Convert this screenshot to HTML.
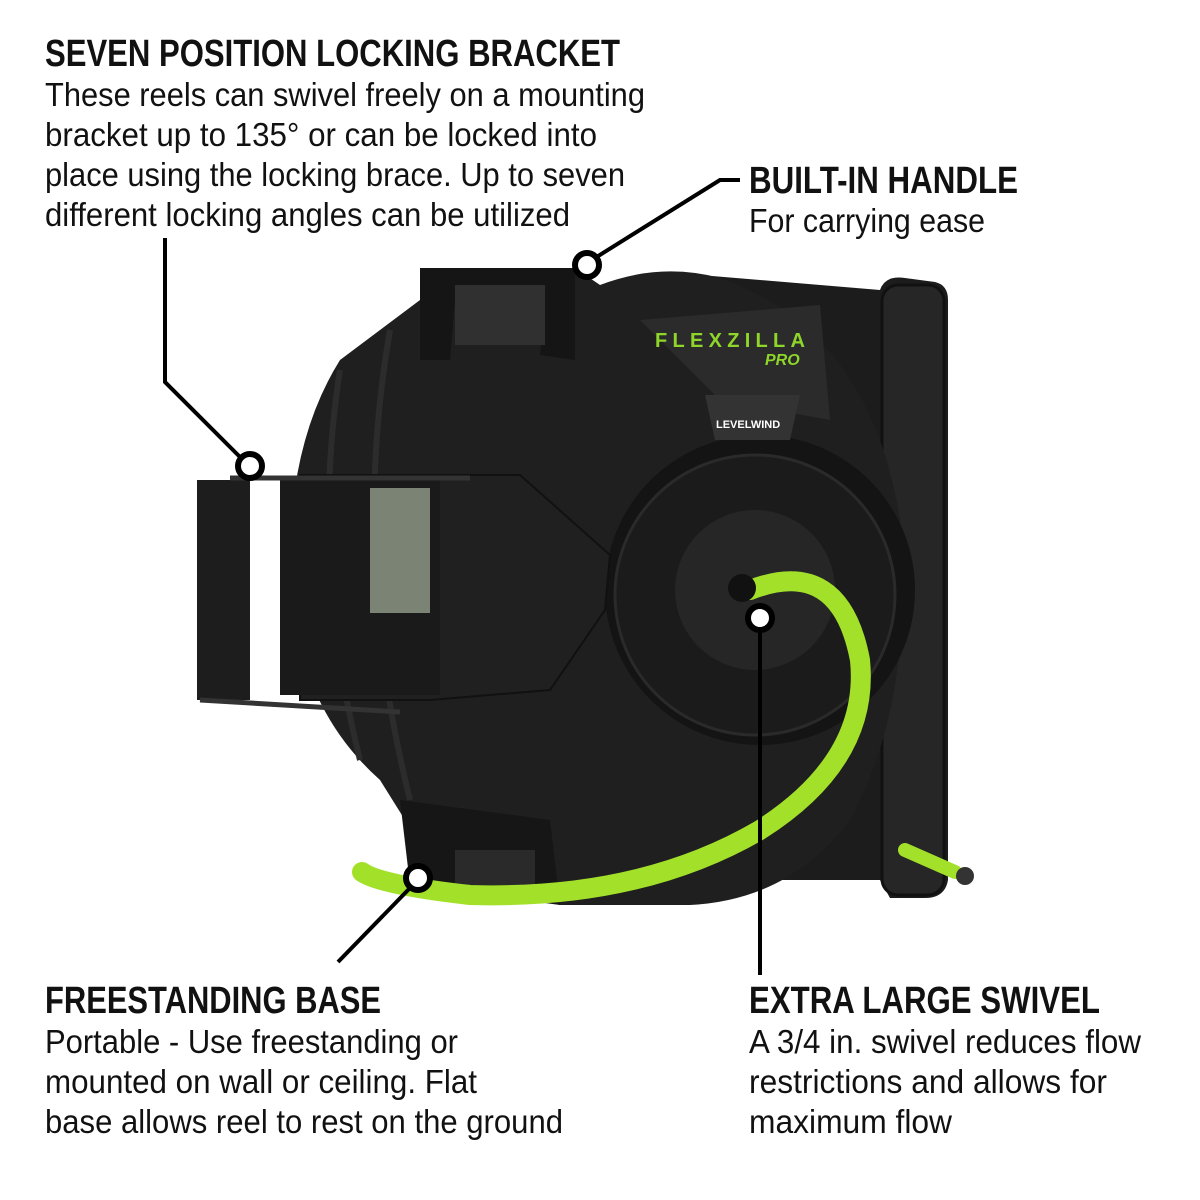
<!DOCTYPE html>
<html><head><meta charset="utf-8"><style>
html,body{margin:0;padding:0;background:#fff;}
svg{display:block}
</style></head><body>
<svg width="1200" height="1200" viewBox="0 0 1200 1200" xmlns="http://www.w3.org/2000/svg">
<rect width="1200" height="1200" fill="#fff"/>
<!-- back plate -->
<path d="M700,275 L880,290 Q885,275 905,278 L935,282 Q948,285 948,300 L948,880 Q945,898 925,898 L890,898 L880,880 L700,880 Z" fill="#1c1c1c"/>
<rect x="882" y="285" width="62" height="610" rx="16" fill="#262626" stroke="#111" stroke-width="3"/>
<!-- main drum -->
<path d="M430,270 L575,268 L600,285 Q660,262 720,278 Q870,330 900,520 Q915,700 850,820 Q790,900 690,905 L560,905 L430,860 L380,780 Q290,700 290,560 Q290,440 340,360 L420,300 Z" fill="#1f1f1f"/>
<!-- handle top -->
<path d="M420,268 L575,268 L575,360 L540,355 L545,305 L455,300 L450,360 L420,360 Z" fill="#151515"/>
<rect x="455" y="285" width="90" height="60" fill="#303030"/>
<!-- bottom base -->
<path d="M400,800 L550,820 L560,905 L410,885 Z" fill="#161616"/>
<rect x="455" y="850" width="80" height="35" fill="#2a2a2a"/>
<!-- ribs -->
<path d="M340,370 Q310,560 360,760" stroke="#2c2c2c" stroke-width="6" fill="none"/>
<path d="M390,330 Q350,560 410,800" stroke="#2c2c2c" stroke-width="6" fill="none"/>
<!-- logo panel -->
<path d="M640,320 L820,305 L830,420 L720,400 Z" fill="#2b2b2b"/>
<text x="655" y="347" font-family="Liberation Sans" font-weight="bold" font-size="20" fill="#8fd62a" textLength="150">FLEXZILLA</text>
<text x="765" y="365" font-family="Liberation Sans" font-style="italic" font-weight="bold" font-size="16" fill="#8fd62a">PRO</text>
<!-- hub -->
<circle cx="760" cy="590" r="155" fill="#141414"/>
<circle cx="755" cy="595" r="140" fill="#1b1b1b" stroke="#2a2a2a" stroke-width="3"/>
<circle cx="755" cy="590" r="80" fill="#262626"/>
<path d="M705,395 L800,395 L790,440 L715,440 Z" fill="#333"/>
<text x="716" y="428" font-family="Liberation Sans" font-weight="bold" font-size="11" fill="#fff">LEVELWIND</text>
<!-- left housing -->
<path d="M300,475 L520,475 L610,555 L605,610 L550,690 L430,700 L300,700 Z" fill="#202020" stroke="#111" stroke-width="2"/>
<rect x="280" y="480" width="160" height="215" fill="#1a1a1a"/>
<!-- bracket -->
<rect x="250" y="482" width="28" height="215" fill="#fff"/>
<rect x="197" y="480" width="53" height="220" fill="#1d1d1d"/>
<line x1="230" y1="478" x2="470" y2="478" stroke="#333" stroke-width="5"/>
<line x1="200" y1="700" x2="400" y2="712" stroke="#333" stroke-width="5"/>
<rect x="370" y="488" width="60" height="125" fill="#7b8474"/>
<!-- hose -->
<path d="M750,590 Q840,555 860,660 Q870,760 760,830 Q640,900 470,895 Q380,885 362,872" stroke="#a3e02a" stroke-width="20" fill="none" stroke-linecap="round"/>
<path d="M905,850 L955,872" stroke="#a3e02a" stroke-width="14" stroke-linecap="round"/>
<circle cx="965" cy="876" r="9" fill="#333"/>
<circle cx="742" cy="588" r="14" fill="#111"/>
<!-- callouts -->
<g stroke="#000" stroke-width="4" fill="none">
<polyline points="165,238 165,382 240,457"/>
<polyline points="595,258 720,180 740,180"/>
<line x1="760" y1="630" x2="760" y2="975"/>
<line x1="410" y1="888" x2="338" y2="962"/>
</g>
<g fill="#fff" stroke="#000" stroke-width="6">
<circle cx="250" cy="466" r="12"/>
<circle cx="587" cy="265" r="12"/>
<circle cx="760" cy="618" r="12"/>
<circle cx="418" cy="878" r="12"/>
</g>
<!-- text -->
<g font-family="Liberation Sans, sans-serif" fill="#111">
<text x="45" y="66" font-size="38" font-weight="bold" textLength="575" lengthAdjust="spacingAndGlyphs">SEVEN POSITION LOCKING BRACKET</text>
<g font-size="33">
<text x="45" y="106" textLength="600" lengthAdjust="spacingAndGlyphs">These reels can swivel freely on a mounting</text>
<text x="45" y="146" textLength="552" lengthAdjust="spacingAndGlyphs">bracket up to 135° or can be locked into</text>
<text x="45" y="186" textLength="580" lengthAdjust="spacingAndGlyphs">place using the locking brace. Up to seven</text>
<text x="45" y="226" textLength="525" lengthAdjust="spacingAndGlyphs">different locking angles can be utilized</text>
</g>
<text x="749" y="193" font-size="38" font-weight="bold" textLength="269" lengthAdjust="spacingAndGlyphs">BUILT-IN HANDLE</text>
<text x="749" y="232" font-size="33" textLength="236" lengthAdjust="spacingAndGlyphs">For carrying ease</text>
<text x="45" y="1013" font-size="38" font-weight="bold" textLength="336" lengthAdjust="spacingAndGlyphs">FREESTANDING BASE</text>
<g font-size="33">
<text x="45" y="1053" textLength="413" lengthAdjust="spacingAndGlyphs">Portable - Use freestanding or</text>
<text x="45" y="1093" textLength="432" lengthAdjust="spacingAndGlyphs">mounted on wall or ceiling. Flat</text>
<text x="45" y="1133" textLength="518" lengthAdjust="spacingAndGlyphs">base allows reel to rest on the ground</text>
</g>
<text x="749" y="1013" font-size="38" font-weight="bold" textLength="351" lengthAdjust="spacingAndGlyphs">EXTRA LARGE SWIVEL</text>
<g font-size="33">
<text x="749" y="1053" textLength="392" lengthAdjust="spacingAndGlyphs">A 3/4 in. swivel reduces flow</text>
<text x="749" y="1093" textLength="358" lengthAdjust="spacingAndGlyphs">restrictions and allows for</text>
<text x="749" y="1133" textLength="203" lengthAdjust="spacingAndGlyphs">maximum flow</text>
</g>
</g>
</svg>
</body></html>
